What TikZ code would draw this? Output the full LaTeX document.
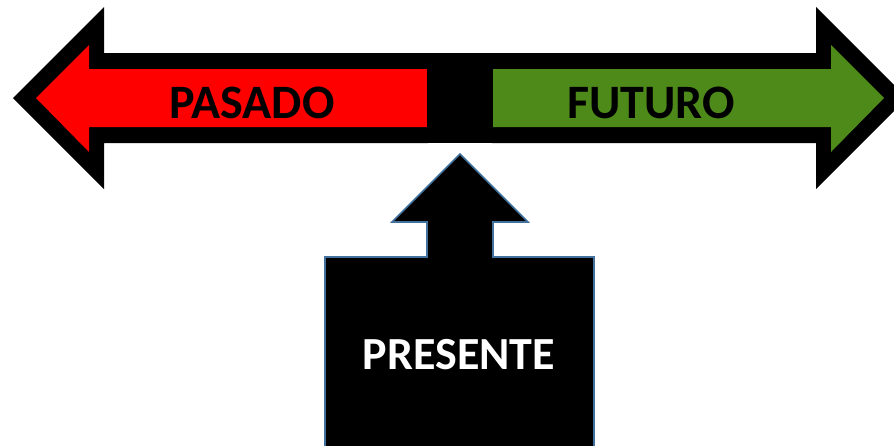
\documentclass[tikz,border=0pt]{standalone}
\usepackage{fontspec}
\setmainfont{Carlito}
\definecolor{pastred}{RGB}{255,0,0}
\definecolor{futgreen}{RGB}{78,138,26}
\definecolor{nowblue}{RGB}{65,113,156}

\begin{document}
\begin{tikzpicture}[x=1pt,y=-1pt,
    border/.style={fill=black},
    label/.style={font=\fontsize{48}{48}\selectfont\bfseries, anchor=base, inner sep=0pt},
    callout/.style={fill=black, draw=nowblue, line width=1.6pt, line join=miter}]
  \useasboundingbox (0,0) rectangle (894,445);
  \clip (0,0) rectangle (894,445);
  % pasado
  \fill[border] (13,98) -- (104,7) -- (104,53) -- (428,53) -- (428,143)
    -- (104,143) -- (104,189) -- cycle;
  \fill[pastred] (36,98) -- (89,45) -- (89,69) -- (428,69) -- (428,127)
    -- (89,127) -- (89,152) -- cycle;
  % futuro
  \fill[border] (907,98) -- (816,7) -- (816,53) -- (492,53) -- (492,143)
    -- (816,143) -- (816,189) -- cycle;
  \fill[futgreen] (884,98) -- (831,45) -- (831,69) -- (492,69) -- (492,127)
    -- (831,127) -- (831,152) -- cycle;
  % now
  \fill[border] (427,53) rectangle (493,143);
  \draw[callout] (460,154) -- (528,222) -- (493,222) -- (493,257) -- (594,257)
    -- (594,460) -- (325,460) -- (325,257) -- (427,257) -- (427,222)
    -- (392,222) -- cycle;
  \node[label] (pasado) at (252,118) {PASADO};
  \node[label] (futuro) at (651,118) {FUTURO};
  \node[label, white, font=\fontsize{46}{46}\selectfont\bfseries] (presente) at (459,369) {PRESENTE};
\end{tikzpicture}
\end{document}
